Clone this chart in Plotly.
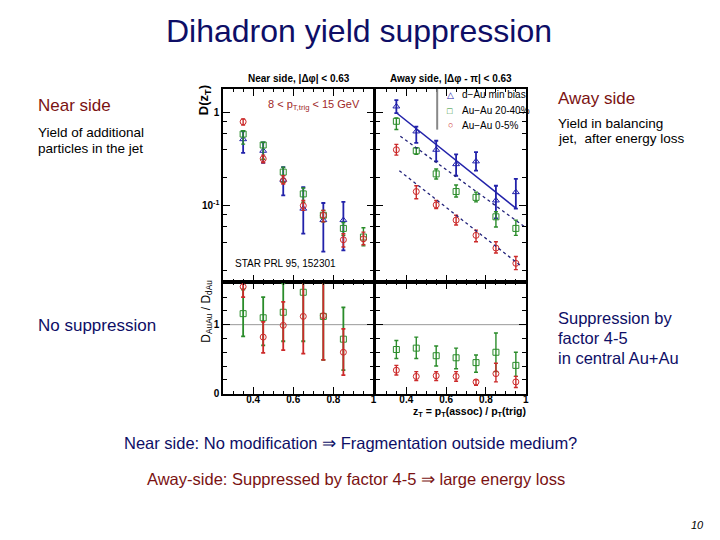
import plotly.graph_objects as go

# ---------------- data ----------------
zt = [0.35, 0.45, 0.55, 0.65, 0.75, 0.85, 0.95]
zt_ratio_near = [0.35, 0.45, 0.55, 0.65, 0.75, 0.85]

# near side D(zT)
near_dau = [0.52, 0.39, 0.19, 0.093, 0.07, 0.07, None]
near_dau_lo = [0.37, 0.29, 0.129, 0.050, 0.032, 0.033, None]
near_dau_hi = [0.63, 0.48, 0.26, 0.158, 0.107, 0.11, None]
near_mid = [0.59, 0.45, 0.23, 0.134, 0.079, 0.057, 0.046]
near_mid_lo = [0.46, 0.316, 0.179, 0.109, 0.067, 0.048, 0.037]
near_mid_hi = [0.64, 0.48, 0.26, 0.155, 0.089, 0.066, 0.058]
near_cen = [0.80, 0.32, 0.186, 0.10, 0.079, 0.043, 0.044]
near_cen_lo = [0.74, 0.29, 0.171, 0.089, 0.067, 0.036, 0.038]
near_cen_hi = [0.86, 0.35, 0.21, 0.114, 0.089, 0.050, 0.052]

# away side D(zT)
away_dau = [1.17, 0.63, 0.40, 0.28, 0.30, 0.114, 0.14]
away_dau_lo = [0.99, 0.475, 0.30, 0.21, 0.238, 0.073, 0.093]
away_dau_hi = [1.37, 0.71, 0.50, 0.357, 0.378, 0.164, 0.194]
away_mid = [0.81, 0.39, 0.22, 0.142, 0.123, 0.076, 0.057]
away_mid_lo = [0.66, 0.357, 0.194, 0.124, 0.11, 0.059, 0.048]
away_mid_hi = [0.88, 0.42, 0.248, 0.167, 0.14, 0.086, 0.07]
away_cen = [0.40, 0.142, 0.102, 0.070, 0.048, 0.035, 0.024]
away_cen_lo = [0.35, 0.119, 0.093, 0.062, 0.041, 0.031, 0.0205]
away_cen_hi = [0.457, 0.164, 0.114, 0.079, 0.0546, 0.041, 0.0284]

# fit lines on away side (end points)
fit_dau_x = [0.35, 0.95]
fit_dau_y = [1.0, 0.094]
fit_mid_x = [0.37, 1.0]
fit_mid_y = [0.56, 0.058]
fit_cen_x = [0.365, 0.97]
fit_cen_y = [0.238, 0.023]

# ratios D_AuAu / D_dAu
rn_mid = [1.16, 1.10, 1.18, 1.47, 1.12, 0.79]
rn_mid_lo = [0.83, 0.70, 0.76, 0.76, 0.49, 0.34]
rn_mid_hi = [1.51, 1.40, 1.60, 1.80, 1.80, 1.25]
rn_cen = [1.55, 0.82, 0.99, 1.12, 1.13, 0.60]
rn_cen_lo = [1.40, 0.59, 0.63, 0.58, 0.49, 0.27]
rn_cen_hi = [1.70, 1.04, 1.33, 1.80, 1.80, 0.94]

ra_mid = [0.64, 0.66, 0.55, 0.52, 0.45, 0.60, 0.41]
ra_mid_lo = [0.51, 0.51, 0.40, 0.36, 0.31, 0.32, 0.25]
ra_mid_hi = [0.77, 0.82, 0.69, 0.66, 0.56, 0.88, 0.60]
ra_cen = [0.34, 0.25, 0.26, 0.25, 0.17, 0.29, 0.17]
ra_cen_lo = [0.27, 0.19, 0.19, 0.18, 0.12, 0.17, 0.09]
ra_cen_hi = [0.41, 0.32, 0.32, 0.32, 0.20, 0.44, 0.25]

labels = ["d\u2212Au min bias", "Au\u2212Au 20-40%", "Au\u2212Au 0-5%"]

# ---------------- styles ----------------
BLUE = "#2222aa"
GREEN = "#2a8c2a"
RED = "#cc2a2a"
NAVY = "#0e0e66"
DRED = "#7a1212"
FONT = "Liberation Sans, Arial, sans-serif"

# page offset of the figure inside the browser window
OFFX, OFFY = 8, 2
W, H = 720 - OFFX, 540 - OFFY


def px_x(p):
    return (p - OFFX) / W


def px_y(p):
    return 1 - (p - OFFY) / H


fig = go.Figure()


def errs(v, lo, hi):
    up = [None if a is None else h - a for a, h in zip(v, hi)]
    dn = [None if a is None else a - l for a, l in zip(v, lo)]
    return up, dn


def add_pts(x, v, lo, hi, color, symbol, xa, ya, thick=1.4):
    up, dn = errs(v, lo, hi)
    fig.add_trace(go.Scatter(
        x=x, y=v, mode="markers", showlegend=False,
        xaxis=xa, yaxis=ya,
        marker=dict(symbol=symbol, size=6, color=color,
                    line=dict(width=1, color=color)),
        error_y=dict(type="data", symmetric=False, array=up, arrayminus=dn,
                     color=color, thickness=thick, width=2),
    ))


# top-left near side
add_pts(zt, near_dau, near_dau_lo, near_dau_hi, BLUE, "triangle-up-open", "x", "y", 1.8)
add_pts(zt, near_mid, near_mid_lo, near_mid_hi, GREEN, "square-open", "x", "y")
add_pts(zt, near_cen, near_cen_lo, near_cen_hi, RED, "circle-open", "x", "y")

# top-right away side
add_pts(zt, away_dau, away_dau_lo, away_dau_hi, BLUE, "triangle-up-open", "x2", "y2", 1.8)
add_pts(zt, away_mid, away_mid_lo, away_mid_hi, GREEN, "square-open", "x2", "y2")
add_pts(zt, away_cen, away_cen_lo, away_cen_hi, RED, "circle-open", "x2", "y2")

fig.add_trace(go.Scatter(x=fit_dau_x, y=fit_dau_y, mode="lines", showlegend=False,
                         xaxis="x2", yaxis="y2", line=dict(color=BLUE, width=1.5)))
fig.add_trace(go.Scatter(x=fit_mid_x, y=fit_mid_y, mode="lines", showlegend=False,
                         xaxis="x2", yaxis="y2", line=dict(color="#22227a", width=1.3, dash="dot")))
fig.add_trace(go.Scatter(x=fit_cen_x, y=fit_cen_y, mode="lines", showlegend=False,
                         xaxis="x2", yaxis="y2", line=dict(color="#22227a", width=1.3, dash="dot")))

# bottom ratios
add_pts(zt_ratio_near, rn_mid, rn_mid_lo, rn_mid_hi, GREEN, "square-open", "x3", "y3", 1.8)
add_pts(zt_ratio_near, rn_cen, rn_cen_lo, rn_cen_hi, RED, "circle-open", "x3", "y3", 1.8)
add_pts(zt, ra_mid, ra_mid_lo, ra_mid_hi, GREEN, "square-open", "x4", "y4")
add_pts(zt, ra_cen, ra_cen_lo, ra_cen_hi, RED, "circle-open", "x4", "y4")

# ---------------- axes ----------------
XL = [px_x(224), px_x(375)]
XR = [px_x(378), px_x(528)]
YT = [px_y(279), px_y(84)]
YB = [px_y(392), px_y(279)]

tickfont = dict(family=FONT, size=10, color="black", weight="bold")
minor_x = dict(ticks="inside", ticklen=3, tickwidth=1, tickcolor="black",
               tickvals=[0.25, 0.3, 0.35, 0.45, 0.5, 0.55, 0.65, 0.7, 0.75, 0.85, 0.9, 0.95])


def xax(domain, anchor, labels_on):
    return dict(domain=domain, anchor=anchor, range=[0.25, 1.0],
                tickvals=[0.4, 0.6, 0.8, 1.0], ticktext=["0.4", "0.6", "0.8", "1"],
                showticklabels=labels_on, ticks="inside", ticklen=7, tickwidth=1,
                tickcolor="black", minor=minor_x, showline=True, linecolor="black",
                linewidth=1.5, mirror="ticks", showgrid=False, zeroline=False,
                tickfont=tickfont, ticklabelstandoff=-4)


logminor = [0.02, 0.04, 0.06, 0.08, 0.2, 0.4, 0.6, 0.8]


def ytop(domain, anchor, labels_on):
    return dict(domain=domain, anchor=anchor, type="log", range=[-1.82, 0.255],
                tickvals=[0.1, 1], ticktext=["10<sup>-1</sup>", "1"],
                showticklabels=labels_on, ticks="inside", ticklen=7, tickwidth=1,
                tickcolor="black",
                minor=dict(ticks="inside", ticklen=4, tickwidth=1, tickcolor="black",
                           tickvals=logminor),
                showline=True, linecolor="black", linewidth=1.5, mirror="ticks",
                showgrid=False, zeroline=False, tickfont=tickfont)


def ybot(domain, anchor, labels_on):
    return dict(domain=domain, anchor=anchor, range=[0, 1.62],
                tickvals=[0, 1], ticktext=["0", "1"],
                showticklabels=labels_on, ticks="inside", ticklen=7, tickwidth=1,
                tickcolor="black",
                minor=dict(ticks="inside", ticklen=4, tickwidth=1, tickcolor="black",
                           tickvals=[0.2, 0.4, 0.6, 0.8, 1.2, 1.4, 1.6]),
                showline=True, linecolor="black", linewidth=1.5, mirror="ticks",
                showgrid=False, zeroline=False, tickfont=tickfont)


fig.update_layout(
    xaxis=xax(XL, "y", False), yaxis=ytop(YT, "x", True),
    xaxis2=xax(XR, "y2", False), yaxis2=ytop(YT, "x2", False),
    xaxis3=xax(XL, "y3", True), yaxis3=ybot(YB, "x3", True),
    xaxis4=xax(XR, "y4", True), yaxis4=ybot(YB, "x4", False),
)

# reference lines at ratio = 1
for xa, ya in (("x3", "y3"), ("x4", "y4")):
    fig.add_shape(type="line", xref=f"{xa} domain", yref=ya, x0=0, x1=1, y0=1, y1=1,
                  line=dict(color="#999999", width=1), layer="below")

# thick divider between top and bottom
fig.add_shape(type="line", xref="paper", yref="paper", x0=px_x(224), x1=px_x(528),
              y0=px_y(279), y1=px_y(279), line=dict(color="black", width=2))
# gray legend bar
fig.add_shape(type="line", xref="paper", yref="paper", x0=px_x(439), x1=px_x(439),
              y0=px_y(84), y1=px_y(125), line=dict(color="#888888", width=2))

# ---------------- text ----------------
ann = []


def text(x, y, s, size, color="black", xanchor="left", weight=None, style=None,
         rotated=False, **kw):
    f = dict(family=FONT, size=size, color=color)
    if weight:
        f["weight"] = weight
    if style:
        f["style"] = style
    yy = y if rotated else y - 0.25 * size
    ann.append(dict(x=px_x(x), y=px_y(yy), xref="paper", yref="paper", text=s,
                    showarrow=False, xanchor=xanchor, yanchor="middle",
                    font=f, align="left", **kw))


text(360, 33, "Dihadron yield suppression", 32, NAVY, xanchor="center")
text(36, 105, "Near side", 17, DRED)
text(36, 131, "Yield of additional", 13.5)
text(36, 147, "particles in the jet", 13.5)
text(558, 98, "Away side", 17, DRED)
text(558, 122, "Yield in balancing", 13.5)
text(558, 137, "jet,  after energy loss", 13.5)
text(36, 327, "No suppression", 17, NAVY)
text(558, 320, "Suppression by", 16.5, NAVY)
text(558, 340, "factor 4-5", 16.5, NAVY)
text(558, 360, "in central Au+Au", 16.5, NAVY)
text(122, 446, "Near side: No modification \u21d2 Fragmentation outside medium?", 16.5, NAVY)
text(146, 482, "Away-side: Suppressed by factor 4-5 \u21d2 large energy loss", 16.5, DRED)
text(709, 528, "10", 11, "black", xanchor="right", style="italic")

text(300, 76, "Near side, |\u0394\u03c6| < 0.63", 10, "black", xanchor="center", weight="bold")
text(453, 76, "Away side, |\u0394\u03c6 - \u03c0| < 0.63", 10, "black", xanchor="center", weight="bold")
text(315, 103, "8 < p<sub>T,trig</sub> < 15 GeV", 11, "#a02828", xanchor="center")
text(234, 263, "STAR PRL 95, 152301", 10, "black")
text(530, 413, "z<sub>T</sub> = p<sub>T</sub>(assoc) / p<sub>T</sub>(trig)", 10.5, "black",
     xanchor="right", weight="bold")
text(206, 95, "D(z<sub>T</sub>)", 13, "black", xanchor="center", textangle=-90,
     weight="bold", rotated=True)
text(207, 309, "D<sub>AuAu</sub> / D<sub>dAu</sub>", 12, "black", xanchor="center",
     textangle=-90, rotated=True)

# legend (symbol + label rows)
leg_sym = ["\u25b3", "\u25a1", "\u25cb"]
leg_col = [BLUE, GREEN, RED]
leg_y = [92, 108, 123]
for s, c, lab, yy in zip(leg_sym, leg_col, labels, leg_y):
    text(452, yy, s, 9, c, xanchor="center")
    text(462, yy, lab, 10, "black")

fig.update_layout(
    annotations=ann,
    width=W, height=H, autosize=False,
    margin=dict(l=0, r=0, t=0, b=0),
    paper_bgcolor="white", plot_bgcolor="white",
    font=dict(family=FONT, color="black"),
    showlegend=False,
)

fig.write_html("out.html")
